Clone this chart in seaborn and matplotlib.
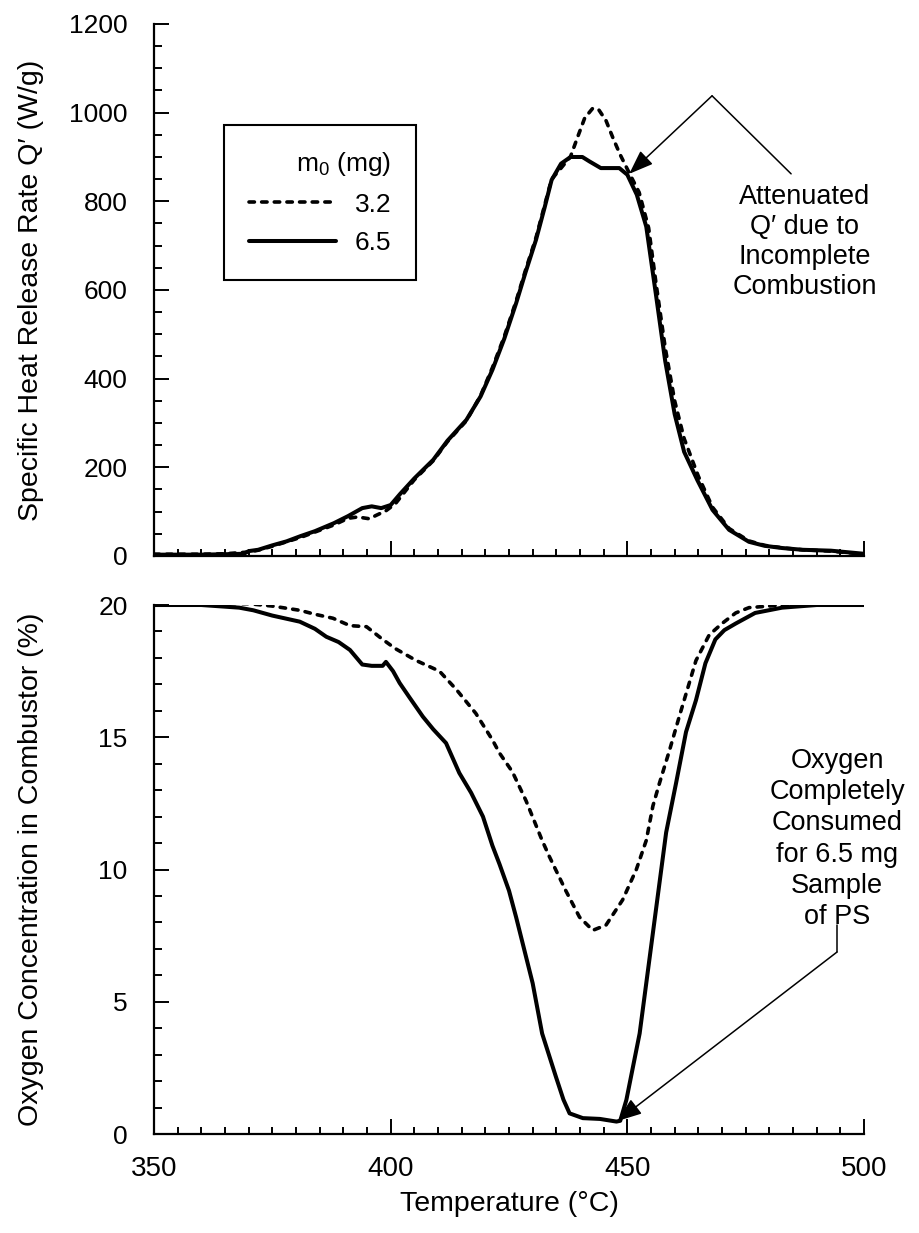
import numpy as np
import pandas as pd
import matplotlib
matplotlib.use("Agg")
import matplotlib.pyplot as plt
from matplotlib.ticker import MultipleLocator
import seaborn as sns

# ---- data -------------------------------------------------------------
# Specific heat release rate Q' (W/g), 3.2 mg sample
temp_q_32 = [350, 355, 360, 365, 370, 372, 375, 378, 381, 384, 388, 391, 393,
             395.5, 397, 399, 401, 403, 405, 409, 412, 416, 419, 421.5, 424,
             426.5, 428.5, 430.7, 432.5, 434, 436, 438, 439.5, 441, 442.7, 444,
             445.5, 447, 448.5, 450.4, 452.5, 454.5, 456, 458, 460, 462, 465,
             468, 471.5, 475.7, 479, 483, 487, 493, 497, 500]
q_32 = [4, 4, 4, 5, 9, 13, 22, 32, 42, 54, 70, 85, 88,
        84, 92, 102, 118, 145, 172, 215, 258, 305, 362, 425, 495,
        575, 645, 718, 790, 850, 875, 901, 945, 988, 1010, 1006,
        982, 942, 905, 864, 820, 740, 620, 470, 350, 265, 180,
        110, 62, 34, 24, 18, 14, 11, 7, 4]

# Specific heat release rate Q' (W/g), 6.5 mg sample
temp_q_65 = [350, 355, 360, 365, 369, 370, 372, 375, 378, 381, 384, 388, 391,
             394, 396, 398, 400, 402, 405, 409, 412, 416, 419, 421.5, 424,
             426.5, 428.5, 430.7, 432.5, 434, 436, 438, 440.5, 442, 444.4,
             448.3, 450, 452, 454, 456, 458, 460, 462, 464.8, 468, 471.5,
             475.7, 479, 482.7, 487, 493, 497, 500]
q_65 = [3, 3, 3, 4, 5, 11, 14, 24, 33, 45, 56, 74, 90,
        108, 112, 108, 115, 140, 175, 217, 260, 307, 360, 420, 490,
        570, 640, 713, 785, 848, 885, 900, 900, 890, 875,
        875, 860, 815, 743, 593, 440, 320, 235, 171, 104, 59,
        32, 23, 18, 14, 12, 8, 5]

# Oxygen concentration in combustor (%), 3.2 mg sample
temp_o2_32 = [350, 360, 370, 375, 380.8, 384, 387.8, 391.4, 394.9, 398.3, 401,
              405.4, 410.3, 413.9, 418, 421.5, 423, 425.7, 428.6, 432, 433.5,
              437, 439.9, 442.7, 445.5, 449, 451.9, 454, 455.4, 456.8, 458.9,
              461, 462, 464.5, 467.3, 470, 472.9, 475.7, 482.7, 490, 500]
o2_32 = [20.05, 20.05, 20.05, 19.96, 19.8, 19.65, 19.5, 19.22, 19.18, 18.7, 18.35,
         17.9, 17.5, 16.8, 15.9, 14.9, 14.4, 13.7, 12.6, 11.1, 10.5,
         9.2, 8.2, 7.7, 7.9, 8.85, 10.0, 11.1, 12.4, 13.27, 14.5,
         15.8, 16.4, 17.9, 18.87, 19.3, 19.7, 19.9, 20.0, 20.1, 20.15]

# Oxygen concentration in combustor (%), 6.5 mg sample
temp_o2_65 = [350, 360, 368, 371, 375, 380.8, 384, 386.4, 389, 391.4, 394, 396,
              398.3, 399, 400.5, 401.9, 404, 406.8, 409, 411.7, 414.5, 417,
              419.5, 421.5, 423, 425, 426.5, 430, 432, 434.9, 436.5, 437.8,
              440.6, 444.2, 447.7, 448.5, 449.8, 452.6, 455.4, 458.2, 460.3,
              462.4, 464.5, 466.5, 468.6, 470.5, 472.9, 477, 482.7, 490, 500]
o2_65 = [20.0, 20.0, 19.9, 19.8, 19.6, 19.37, 19.1, 18.8, 18.6, 18.3, 17.75, 17.7,
         17.7, 17.85, 17.5, 17.05, 16.5, 15.78, 15.3, 14.78, 13.65, 12.9,
         12.0, 10.9, 10.2, 9.2, 8.2, 5.7, 3.8, 2.17, 1.3, 0.78,
         0.6, 0.57, 0.47, 0.5, 1.29, 3.8, 7.6, 11.4, 13.27,
         15.2, 16.4, 17.8, 18.7, 19.05, 19.3, 19.7, 19.9, 20.0, 20.0]

mass_labels = ["3.2", "6.5"]
legend_title = "m$_0$ (mg)"

# ---- style ------------------------------------------------------------
sns.set_theme(style="ticks")
plt.rcParams["font.family"] = ["Liberation Sans", "DejaVu Sans"]
plt.rcParams["mathtext.fontset"] = "custom"
plt.rcParams["mathtext.rm"] = "Liberation Sans"
plt.rcParams["mathtext.default"] = "regular"
for key in ("text.color", "axes.labelcolor", "xtick.color", "ytick.color",
            "axes.edgecolor"):
    plt.rcParams[key] = "black"

LW_SOLID = 2.9
LW_DASH = 2.6
DASH = dict(linestyle=(0, (1.5, 2.0)), dash_capstyle="round")

fig = plt.figure(figsize=(9.19, 12.33), dpi=100)
ax1 = fig.add_axes([0.16757, 0.54907, 0.77258, 0.43147])
ax2 = fig.add_axes([0.16757, 0.08029, 0.77258, 0.42903])

df_q32 = pd.DataFrame({"T": temp_q_32, "v": q_32})
df_q65 = pd.DataFrame({"T": temp_q_65, "v": q_65})
df_o32 = pd.DataFrame({"T": temp_o2_32, "v": o2_32})
df_o65 = pd.DataFrame({"T": temp_o2_65, "v": o2_65})

sns.lineplot(data=df_q32, x="T", y="v", ax=ax1, color="black", lw=LW_DASH,
             estimator=None, sort=False, label=mass_labels[0], **DASH)
sns.lineplot(data=df_q65, x="T", y="v", ax=ax1, color="black", lw=LW_SOLID,
             estimator=None, sort=False, label=mass_labels[1],
             solid_joinstyle="round")
sns.lineplot(data=df_o32, x="T", y="v", ax=ax2, color="black", lw=LW_DASH,
             estimator=None, sort=False, **DASH)
sns.lineplot(data=df_o65, x="T", y="v", ax=ax2, color="black", lw=LW_SOLID,
             estimator=None, sort=False, solid_joinstyle="round")

# ---- axes -------------------------------------------------------------
for ax in (ax1, ax2):
    ax.set_xlim(350, 500)
    ax.xaxis.set_major_locator(MultipleLocator(50))
    ax.xaxis.set_minor_locator(MultipleLocator(5))
    for s in ("top", "right"):
        ax.spines[s].set_visible(False)
    for s in ("left", "bottom"):
        ax.spines[s].set_linewidth(1.6)
        ax.spines[s].set_color("black")
    ax.tick_params(which="both", direction="in", color="black", width=1.4,
                   labelcolor="black")
    ax.tick_params(which="major", length=10.8)
    ax.tick_params(which="minor", length=5.4)
    ax.tick_params(axis="y", which="major", pad=19, labelsize=19)
    ax.tick_params(axis="x", which="major", pad=16, labelsize=20)
    ax.set_facecolor("white")

ax1.set_ylim(0, 1200)
ax1.yaxis.set_major_locator(MultipleLocator(200))
ax1.yaxis.set_minor_locator(MultipleLocator(50))
ax1.tick_params(axis="x", labelbottom=False)
ax1.set_xlabel("")
ax1.set_ylabel("Specific Heat Release Rate Q\u2032 (W/g)", fontsize=20.5)
ax1.yaxis.set_label_coords(-0.155, 0.5)

ax2.set_ylim(0, 20)
ax2.yaxis.set_major_locator(MultipleLocator(5))
ax2.yaxis.set_minor_locator(MultipleLocator(1))
ax2.set_xlabel("Temperature (\u00b0C)", fontsize=20.5)
ax2.xaxis.set_label_coords(0.5, -0.108)
ax2.set_ylabel("Oxygen Concentration in Combustor (%)", fontsize=20.5)
ax2.yaxis.set_label_coords(-0.155, 0.5)

# ---- legend -----------------------------------------------------------
handles, labels = ax1.get_legend_handles_labels()
leg = ax1.legend(handles, labels, title=legend_title, loc="upper left",
                 bbox_to_anchor=(0.0986, 0.810), borderaxespad=0,
                 frameon=True, fancybox=False, framealpha=1,
                 edgecolor="black", fontsize=19, title_fontsize=19,
                 handlelength=3.3, handletextpad=0.7, labelspacing=0.55,
                 borderpad=0.95, alignment="right")
leg.get_frame().set_linewidth(1.5)

# ---- annotations ------------------------------------------------------
ann_kw = dict(color="black", lw=1.1)
ax1.text(487.5, 708, "Attenuated\nQ\u2032 due to\nIncomplete\nCombustion",
         ha="center", va="center", fontsize=19.5, linespacing=1.2)
ax1.plot([484.6, 467.9], [862, 1038], clip_on=False, **ann_kw)
ax1.annotate("", xy=(450.4, 862), xytext=(467.9, 1038),
             arrowprops=dict(arrowstyle="-|>,head_length=0.75,head_width=0.28",
                             mutation_scale=20, shrinkA=0, shrinkB=0,
                             color="black", lw=1.1))

ax2.text(494.3, 11.15,
         "Oxygen\nCompletely\nConsumed\nfor 6.5 mg\nSample\nof PS",
         ha="center", va="center", fontsize=19.5, linespacing=1.26)
ax2.plot([494.3, 494.3], [7.9, 6.88], clip_on=False, **ann_kw)
ax2.annotate("", xy=(447.9, 0.49), xytext=(494.3, 6.88),
             arrowprops=dict(arrowstyle="-|>,head_length=0.75,head_width=0.28",
                             mutation_scale=20, shrinkA=0, shrinkB=0,
                             color="black", lw=1.1))

fig.savefig("out.png", dpi=100, facecolor="white")
